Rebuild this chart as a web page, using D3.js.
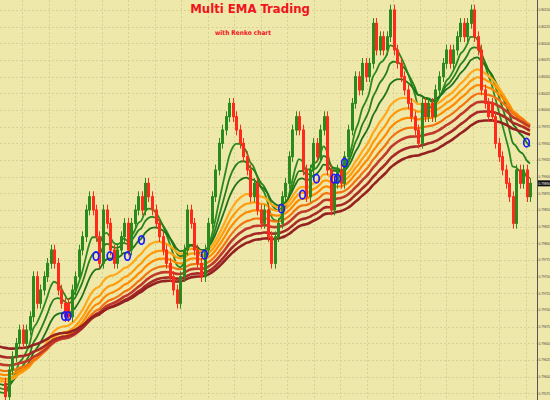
<!DOCTYPE html>
<html>
<head>
<meta charset="utf-8">
<script src="https://cdn.jsdelivr.net/npm/d3@7/dist/d3.min.js"></script>
<style>
body { margin: 0; background: #EEE8AA; }
svg { display: block; }
</style>
</head>
<body>
<div id="chart"></div>
<script>
// renko closes, one per brick
var closes = [
  0.7957, 0.7961, 0.7963, 0.7965, 0.7967, 0.7965, 0.7967, 0.7969, 0.7975, 0.7971, 0.7973, 0.7975, 0.7977, 0.7979,
  0.7977, 0.7973, 0.7971, 0.7969, 0.7969,
  0.7973, 0.7975, 0.7979, 0.7981, 0.7985, 0.7987,
  0.7985, 0.7981, 0.7977,
  0.7985, 0.7983, 0.7979, 0.7977,
  0.7979, 0.7981, 0.7983,
  0.7979, 0.7983, 0.7985, 0.7987, 0.7985, 0.7989, 0.7987,
  0.7985, 0.7983, 0.7981, 0.7979, 0.7977, 0.7975, 0.7973, 0.7971,
  0.7975, 0.7979, 0.7985, 0.7983, 0.7979, 0.7977, 0.7975,
  0.7979, 0.7983, 0.7987, 0.7991, 0.7995, 0.7997, 0.7999, 0.8001,
  0.7999, 0.7997, 0.7995, 0.7993, 0.7991,
  0.7987, 0.7989, 0.7985, 0.7983, 0.7985, 0.7981, 0.7977, 0.7981,
  0.7983, 0.7987, 0.7989, 0.7993, 0.7997, 0.7999, 0.7997,
  0.7991, 0.7987,
  0.7991, 0.7995, 0.7993, 0.7997, 0.7999, 0.7991, 0.7985, 0.7989, 0.7991, 0.7989, 0.7993, 0.7997,
  0.8001, 0.8005, 0.8003, 0.8007, 0.8005, 0.8007, 0.8013, 0.8009, 0.8011, 0.8009, 0.8011, 0.8015,
  0.8009, 0.8007, 0.8005, 0.8003, 0.8001, 0.7999, 0.7997, 0.7995,
  0.8001, 0.7999, 0.8001, 0.7999, 0.8003, 0.8005, 0.8007, 0.8009,
  0.8007, 0.8009, 0.8011, 0.8013, 0.8011, 0.8013, 0.8015,
  0.8011, 0.8009, 0.8003, 0.8001, 0.7999, 0.7999, 0.7995, 0.7993, 0.7991, 0.7989, 0.7987, 0.7983,
  0.7991, 0.7989, 0.7991, 0.7987, 0.7989
]
var brick = 0.0002

// moving averages: 3 fast (green), 4 middle (orange), 3 slow (brown)
var emaPeriods = [8, 13, 20, 30, 37, 44, 52, 60, 70, 80]
var emaSeeds = [0.79577, 0.79583, 0.79589, 0.79594, 0.79598, 0.79604, 0.79610, 0.79619, 0.79631, 0.79645]
var emaColors = ['#2b8a1d', '#26801b', '#1f7418', '#ffa81a', '#ff9a0a', '#ff8a00', '#f27410', '#c0392b', '#a82a28', '#952222']

// signal circles
var markerBars = [17, 18, 26, 30, 35, 39, 57, 79, 85, 89, 94, 95, 97, 149]
var markerPrices = [0.79691, 0.79691, 0.79781, 0.79781, 0.79781, 0.79805, 0.79783, 0.79852, 0.79873, 0.79897, 0.79897, 0.79897, 0.79921, 0.79951]

var priceTicks = [0.80150, 0.80125, 0.80100, 0.80075, 0.80050, 0.80025, 0.80000, 0.79975, 0.79950, 0.79925,
  0.79900, 0.79875, 0.79850, 0.79825, 0.79800, 0.79775, 0.79750, 0.79725, 0.79700, 0.79675,
  0.79650, 0.79625, 0.79600, 0.79575]

var width = 550
var height = 400
var axisX = 537

var svg = d3.select('#chart').append('svg')
    .attr('width', width)
    .attr('height', height)

svg.append('rect').attr('width', width).attr('height', height).attr('fill', '#EEE8AA')

var x = d3.scaleLinear().domain([0, closes.length - 1]).range([5, 530])
var y = d3.scaleLinear().domain([0.79565, 0.80165]).range([height, 0])

// grid
var grid = svg.append('g').attr('stroke', '#d8d196').attr('stroke-dasharray', '2,2').attr('stroke-width', 1)
grid.selectAll('.h').data(priceTicks).enter().append('line')
    .attr('x1', 0).attr('x2', axisX)
    .attr('y1', function (d) { return Math.round(y(d)) + 0.5 })
    .attr('y2', function (d) { return Math.round(y(d)) + 0.5 })
grid.selectAll('.v').data(d3.range(22, axisX, 26.5)).enter().append('line')
    .attr('x1', function (d) { return Math.round(d) + 0.5 })
    .attr('x2', function (d) { return Math.round(d) + 0.5 })
    .attr('y1', 0).attr('y2', height)

// EMAs
var emas = emaPeriods.map(function (p, k) {
    var a = 2 / (p + 1)
    var e = emaSeeds[k]
    var pts = [[-1.5, e]]
    closes.forEach(function (c, i) {
        e = e + a * (c - e)
        pts.push([i, e])
    })
    return pts
})
var line = d3.line()
    .x(function (d) { return x(d[0]) })
    .y(function (d) { return y(d[1]) })
    .curve(d3.curveMonotoneX)

svg.append('g').selectAll('path').data(emas).enter().append('path')
    .attr('d', line)
    .attr('fill', 'none')
    .attr('stroke', function (d, i) { return emaColors[i] })
    .attr('stroke-width', function (d, i) { return i < 3 ? 1.8 : (i < 7 ? 2.2 : 2.6) })

// renko bars
var bars = []
var prevUp = false
closes.forEach(function (c, i) {
    var o = i === 0 ? c + brick : closes[i - 1]
    var up = c > o || (c === o && prevUp)
    if (Math.abs(c - o) < brick) o = up ? c - brick : c + brick
    prevUp = up
    bars.push({ i: i, hi: Math.max(o, c), lo: Math.min(o, c), up: up })
})
var wick = brick * 0.4
var bg = svg.append('g')
bars.forEach(function (b) {
    var col = b.up ? '#2a8a1e' : '#ff2a1a'
    var cx = Math.round(x(b.i)) + 0.5
    bg.append('line')
        .attr('x1', cx).attr('x2', cx)
        .attr('y1', y(b.hi + wick)).attr('y2', y(b.lo - wick))
        .attr('stroke', col).attr('stroke-width', 1)
    bg.append('rect')
        .attr('x', cx - 1).attr('width', 2)
        .attr('y', y(b.hi)).attr('height', y(b.lo) - y(b.hi))
        .attr('fill', 'none').attr('stroke', col).attr('stroke-width', 1)
})

// markers
svg.append('g').selectAll('ellipse').data(markerBars).enter().append('ellipse')
    .attr('cx', function (d) { return x(d) })
    .attr('cy', function (d, i) { return y(markerPrices[i]) })
    .attr('rx', 2.8).attr('ry', 4.2)
    .attr('fill', 'none').attr('stroke', '#1a1aff').attr('stroke-width', 1.7)

// right price axis
svg.append('line').attr('x1', axisX + 0.5).attr('x2', axisX + 0.5).attr('y1', 0).attr('y2', height)
    .attr('stroke', '#555').attr('stroke-width', 1)
svg.append('g').selectAll('text').data(priceTicks).enter().append('text')
    .attr('x', axisX + 1.5)
    .attr('y', function (d) { return y(d) + 1.2 })
    .attr('font-family', 'Liberation Sans Narrow, sans-serif')
    .attr('font-size', 3.2)
    .attr('fill', '#444')
    .text(function (d) { return d3.format('.5f')(d) })

var last = closes[closes.length - 1]
svg.append('rect').attr('x', axisX + 1).attr('y', y(last) - 3).attr('width', 12).attr('height', 6).attr('fill', '#111')
svg.append('text').attr('x', axisX + 1.5).attr('y', y(last) + 1.2)
    .attr('font-family', 'Liberation Sans Narrow, sans-serif').attr('font-size', 3.2).attr('fill', '#fff')
    .text(d3.format('.5f')(last))

// titles
svg.append('text').attr('x', 250).attr('y', 12.5)
    .attr('text-anchor', 'middle')
    .attr('font-family', 'Liberation Sans Narrow, DejaVu Sans Condensed, sans-serif')
    .attr('font-weight', 'bold').attr('font-size', 13)
    .attr('fill', '#f0141e')
    .text('Multi EMA Trading')
svg.append('text').attr('x', 243).attr('y', 35)
    .attr('text-anchor', 'middle')
    .attr('font-family', 'Liberation Sans Narrow, DejaVu Sans Condensed, sans-serif')
    .attr('font-weight', 'bold').attr('font-size', 6.5)
    .attr('fill', '#f0141e')
    .text('with Renko chart')
</script>
</body>
</html>
